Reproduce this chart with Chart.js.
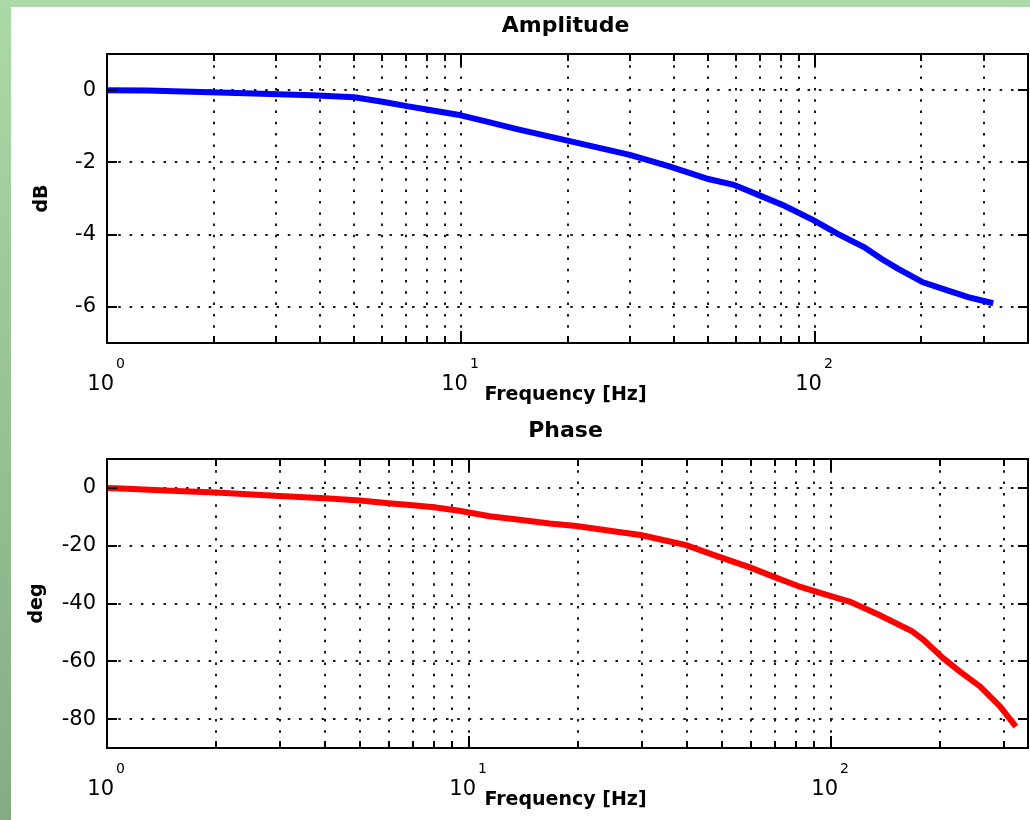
<!DOCTYPE html>
<html>
<head>
<meta charset="utf-8">
<script src="https://cdn.jsdelivr.net/npm/chart.js@4.4.0/dist/chart.umd.min.js"></script>
<style>
  html, body { margin: 0; padding: 0; }
  body {
    width: 1030px; height: 820px; overflow: hidden; position: relative;
    background: linear-gradient(180deg, #acd9a8 0%, #98c295 50%, #86ab84 100%);
  }
  #panel { position: absolute; left: 11px; top: 7px; right: 0; bottom: 0; background: #fff; }
  canvas { position: absolute; left: 0; }
  #amp { top: 0; }
  #phase { top: 410px; }
</style>
</head>
<body>
<div id="panel"></div>
<canvas id="amp" width="1030" height="410"></canvas>
<canvas id="phase" width="1030" height="410"></canvas>
<script>
// amplitude curve (blue)
const ampFreq = [1, 1.3, 2.2, 3.8, 5, 6, 7.1, 8.4, 9.8, 11.6, 14.4, 20, 30, 39, 50, 59, 70, 82, 99, 116, 138, 154, 172, 202, 238, 271, 319];
const ampDb = [0, -0.01, -0.07, -0.14, -0.2, -0.32, -0.45, -0.57, -0.68, -0.85, -1.08, -1.4, -1.79, -2.12, -2.46, -2.62, -2.92, -3.2, -3.6, -3.98, -4.35, -4.67, -4.95, -5.32, -5.55, -5.73, -5.9];

// phase curve (red)
const phaseFreq = [1, 1.14, 1.5, 2, 3, 4, 5, 6, 7, 8, 9.4, 11.4, 13.6, 16.7, 19.8, 25.6, 29.8, 35.1, 39.8, 48.2, 59.7, 69.3, 82, 99.4, 113, 136, 167, 180, 204, 227, 258, 293, 324];
const phaseDeg = [0, -0.3, -1.0, -1.6, -2.8, -3.6, -4.4, -5.3, -6.0, -6.7, -7.9, -9.8, -10.9, -12.3, -13.2, -15.2, -16.3, -18.3, -19.8, -23.5, -27.5, -30.7, -34.2, -37.4, -39.4, -44, -49.5, -52.6, -58.9, -63.6, -68.7, -75.6, -82.6];

// axes
const ampXTicks = [1, 2, 3, 4, 5, 6, 7, 8, 9, 10, 20, 30, 40, 50, 60, 70, 80, 90, 100, 200, 300, 400];
const phaseXTicks = [1, 2, 3, 4, 5, 6, 7, 8, 9, 10, 20, 30, 40, 50, 60, 70, 80, 90, 100, 200, 300];
const decadeTicks = [1, 10, 100];
const ampYTicks = [-6, -4, -2, 0];
const phaseYTicks = [-80, -60, -40, -20, 0];

const dotted = [2.5, 8.8];

// matlab style box, inward ticks and all the text
const matlabAxes = {
  id: "matlabAxes",
  afterDraw(chart, args, opts) {
    const ctx = chart.ctx;
    const a = chart.chartArea;
    const xs = chart.scales.x;
    const ys = chart.scales.y;
    ctx.save();
    ctx.strokeStyle = "#000";
    ctx.lineWidth = 2;
    ctx.beginPath();
    opts.xTicks.forEach((v) => {
      const px = Math.round(xs.getPixelForValue(v));
      const len = decadeTicks.includes(v) ? 12 : 7;
      ctx.moveTo(px, a.bottom);
      ctx.lineTo(px, a.bottom - len);
      ctx.moveTo(px, a.top);
      ctx.lineTo(px, a.top + len);
    });
    opts.yTicks.forEach((v) => {
      const py = Math.round(ys.getPixelForValue(v));
      ctx.moveTo(a.left, py);
      ctx.lineTo(a.left + 10, py);
      ctx.moveTo(a.right, py);
      ctx.lineTo(a.right - 10, py);
    });
    ctx.stroke();
    ctx.strokeRect(a.left, a.top, a.right - a.left, a.bottom - a.top);

    ctx.fillStyle = "#000";
    // y tick labels
    ctx.font = '21px "DejaVu Sans"';
    ctx.textAlign = "right";
    ctx.textBaseline = "middle";
    opts.yTicks.forEach((v) => {
      ctx.fillText(String(v), a.left - 11, ys.getPixelForValue(v));
    });
    // x tick labels 10^n
    ctx.textBaseline = "alphabetic";
    decadeTicks.forEach((v) => {
      const px = xs.getPixelForValue(v);
      ctx.font = '21px "DejaVu Sans"';
      ctx.textAlign = "right";
      ctx.fillText("10", px + 7, a.bottom + 47);
      ctx.font = '14px "DejaVu Sans"';
      ctx.textAlign = "left";
      ctx.fillText(String(Math.round(Math.log10(v))), px + 9, a.bottom + 25);
    });
    // titles
    const cx = (a.left + a.right) / 2;
    ctx.textAlign = "center";
    ctx.font = 'bold 22px "DejaVu Sans"';
    ctx.fillText(opts.title, cx - 2, a.top - 22);
    ctx.font = 'bold 19px "DejaVu Sans"';
    ctx.fillText("Frequency [Hz]", cx - 2, a.bottom + 57);
    ctx.translate(opts.yTitleX, (a.top + a.bottom) / 2);
    ctx.rotate(-Math.PI / 2);
    ctx.textBaseline = "middle";
    ctx.fillText(opts.yTitle, 0, 0);
    ctx.restore();
  },
};

function makeChart(id, freq, vals, color, xMax, yMin, yMax, xTicks, yTicks, padTop, padBottom, text) {
  const ctx = document.getElementById(id).getContext("2d");
  return new Chart(ctx, {
    type: "line",
    data: {
      datasets: [
        {
          data: freq.map((f, i) => ({ x: f, y: vals[i] })),
          borderColor: color,
          borderWidth: 6,
          pointRadius: 0,
          tension: 0,
          fill: false,
        },
      ],
    },
    options: {
      responsive: false,
      animation: false,
      events: [],
      layout: { padding: { left: 107, right: 2, top: padTop, bottom: padBottom } },
      plugins: {
        legend: { display: false },
        title: { display: false },
        tooltip: { enabled: false },
        matlabAxes: { xTicks: xTicks, yTicks: yTicks, title: text.title, yTitle: text.yTitle, yTitleX: text.yTitleX },
      },
      scales: {
        x: {
          type: "logarithmic",
          min: 1,
          max: xMax,
          afterBuildTicks: (s) => {
            s.ticks = xTicks.map((v) => ({ value: v }));
          },
          ticks: { display: false },
          grid: { color: "#1a1a1a", lineWidth: 2, drawTicks: false, borderDash: dotted },
          border: { display: false, dash: dotted },
        },
        y: {
          type: "linear",
          min: yMin,
          max: yMax,
          afterBuildTicks: (s) => {
            s.ticks = yTicks.map((v) => ({ value: v }));
          },
          ticks: { display: false },
          grid: { color: "#1a1a1a", lineWidth: 2, drawTicks: false, borderDash: dotted },
          border: { display: false, dash: dotted },
        },
      },
    },
    plugins: [matlabAxes],
  });
}

makeChart("amp", ampFreq, ampDb, "#0000ff", 400, -7, 1, ampXTicks, ampYTicks, 54, 67,
  { title: "Amplitude", yTitle: "dB", yTitleX: 42 });
makeChart("phase", phaseFreq, phaseDeg, "#ff0000", 350, -90, 10, phaseXTicks, phaseYTicks, 49, 72,
  { title: "Phase", yTitle: "deg", yTitleX: 37 });
</script>
</body>
</html>
